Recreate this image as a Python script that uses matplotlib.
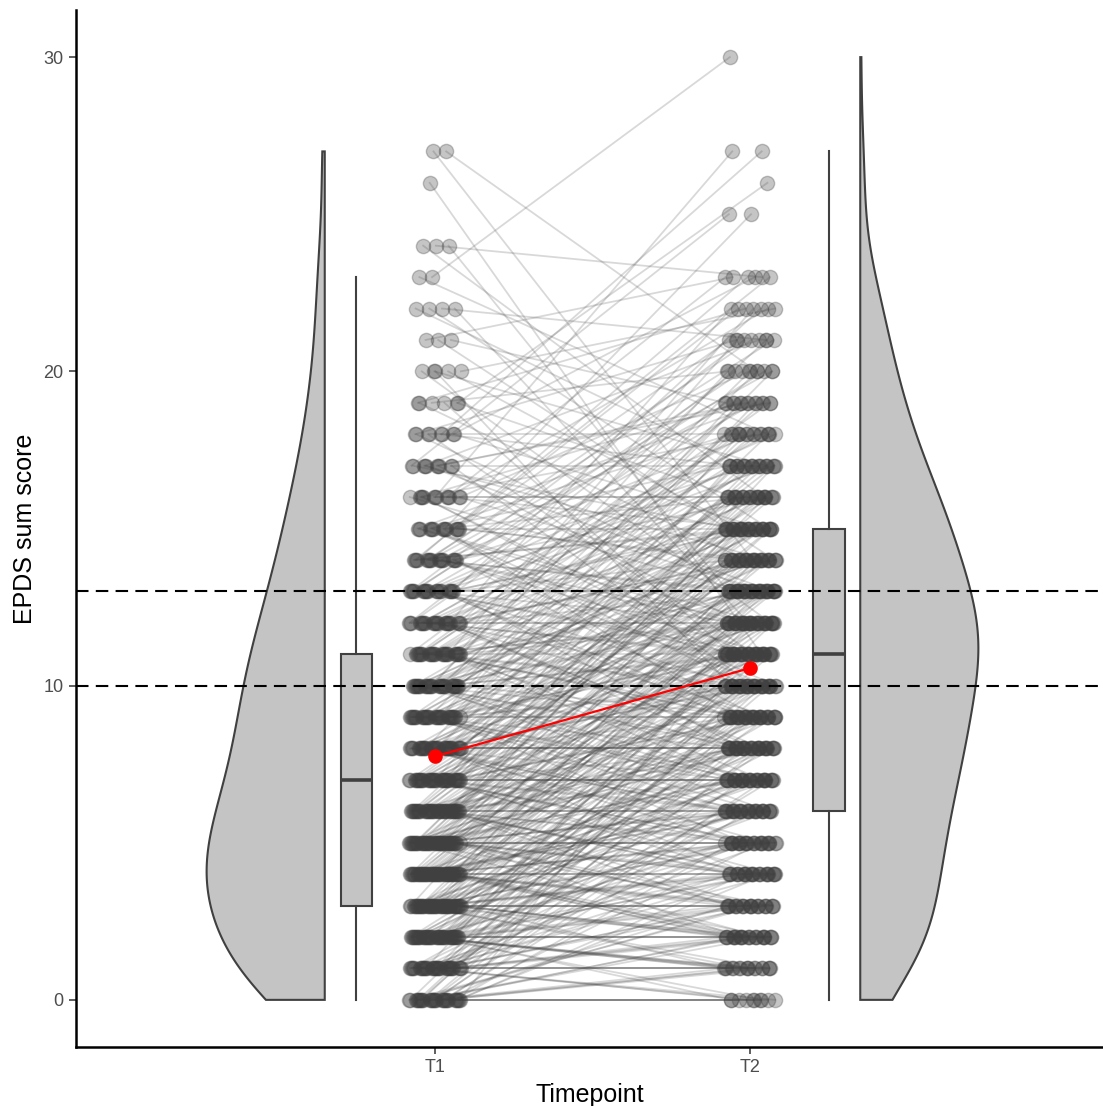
import numpy as np
import matplotlib
matplotlib.use("Agg")
import matplotlib.pyplot as plt

plt.rcParams['font.family'] = ['Liberation Sans', 'DejaVu Sans']

# ---- data ----
timepoints = ["T1", "T2"]
scores = list(range(31))
t1_counts = [30, 33, 40, 44, 46, 44, 40, 36, 33, 32,
             30, 28, 24, 21, 18, 15, 13, 10, 8, 6,
             5, 3, 4, 2, 3, 0, 1, 2, 0, 0,
             0]
t2_counts = [10, 17, 24, 23, 25, 26, 28, 30, 33, 34,
             35, 39, 38, 35, 30, 30, 24, 21, 16, 14,
             11, 9, 7, 6, 0, 2, 1, 2, 0, 0,
             1]
cutoffs = [10, 13]
y_ticks = [0, 10, 20, 30]

# ---- build paired observations ----
t1_vals = np.repeat(scores, t1_counts).astype(float)
t2_sorted = np.repeat(scores, t2_counts).astype(float)
N = len(t1_vals)
idx = np.arange(N)
u = (idx + 0.5) / N
g = (idx * 0.6180339887) % 1.0
key = 0.5 * u + 0.5 * g
rank = np.argsort(np.argsort(key))
t2_vals = t2_sorted[rank]

def row_jitter(vals, w, seed_off, step):
    out = np.zeros(len(vals))
    for s in np.unique(vals):
        m = np.where(vals == s)[0]
        k = np.arange(len(m))
        out[m] = w * (2 * ((k * step + s * 0.318 + seed_off) % 1.0) - 1)
    return out

jw = 0.082
x1 = 1 + row_jitter(t1_vals, jw, 0.13, 0.7548776662)
x2 = 2 + row_jitter(t2_vals, jw, 0.57, 0.5698402910)

def kde(vals, grid):
    n = len(vals)
    sd = np.std(vals, ddof=1)
    q75, q25 = np.percentile(vals, [75, 25])
    bw = 0.9 * min(sd, (q75 - q25) / 1.34) * n ** -0.2
    z = (grid[:, None] - vals[None, :]) / bw
    return np.exp(-0.5 * z ** 2).sum(axis=1) / (n * bw * np.sqrt(2 * np.pi))

# ---- figure ----
fig = plt.figure(figsize=(11.03, 11.06), dpi=100)
ax = fig.add_axes([76 / 1103, 1 - 1047 / 1106, 1 - 76 / 1103, (1047 - 10) / 1106])

dark = '#404040'
fillc = '#C4C4C4'
vw = 0.375

# violins
for vals, base, side in [(t1_vals, 0.65, -1), (t2_vals, 2.35, 1)]:
    grid = np.linspace(vals.min(), vals.max(), 512)
    d = kde(vals, grid)
    d = d / d.max() * vw
    xs = np.concatenate([base + side * d, [base, base]])
    ys = np.concatenate([grid, [grid[-1], grid[0]]])
    ax.fill(xs, ys, facecolor=fillc, edgecolor=dark, linewidth=1.5, zorder=1)

# paired lines
for a, b, c, d_ in zip(x1, x2, t1_vals, t2_vals):
    ax.plot([a, b], [c, d_], color=dark, alpha=0.2, linewidth=1.3, zorder=2)

# points
ax.scatter(x1, t1_vals, s=105, color=dark, alpha=0.3, linewidths=1.0,
           edgecolors=dark, zorder=3)
ax.scatter(x2, t2_vals, s=105, color=dark, alpha=0.3, linewidths=1.0,
           edgecolors=dark, zorder=3)

# boxplots
bp = ax.boxplot([t1_vals, t2_vals], positions=[0.75, 2.25], widths=0.1,
                whis=1.5, showfliers=False, patch_artist=True,
                boxprops=dict(facecolor=fillc, edgecolor=dark, linewidth=1.5),
                whiskerprops=dict(color=dark, linewidth=1.5),
                capprops=dict(linewidth=0),
                medianprops=dict(color=dark, linewidth=2.6),
                zorder=4, manage_ticks=False)

# cutoff lines
for c in cutoffs:
    ax.axhline(c, color='black', linewidth=1.5, linestyle=(0, (6, 3.5)), zorder=5)

# means
means = [t1_vals.mean(), t2_vals.mean()]
ax.plot([1, 2], means, color='red', linewidth=1.6, zorder=6)
ax.scatter([1, 2], means, s=90, color='red', zorder=7)

ax.set_xlim(1 - 359 / 315, 2 + 353 / 315)
ax.set_ylim(-1.5, 31.5)
ax.set_xticks([1, 2])
ax.set_xticklabels(timepoints)
ax.set_yticks(y_ticks)
ax.set_yticklabels([str(t) for t in y_ticks])
ax.tick_params(axis='both', labelsize=13, length=5, width=1.1, pad=4, color='#333333')
for lab in ax.get_xticklabels() + ax.get_yticklabels():
    lab.set_color('#4D4D4D')
ax.set_xlabel("Timepoint", fontsize=18, labelpad=5)
ax.set_ylabel("EPDS sum score", fontsize=18, labelpad=4.5)
for s in ['top', 'right']:
    ax.spines[s].set_visible(False)
for s in ['left', 'bottom']:
    ax.spines[s].set_linewidth(1.8)
    ax.spines[s].set_color('black')

fig.savefig("out.png", dpi=100)
